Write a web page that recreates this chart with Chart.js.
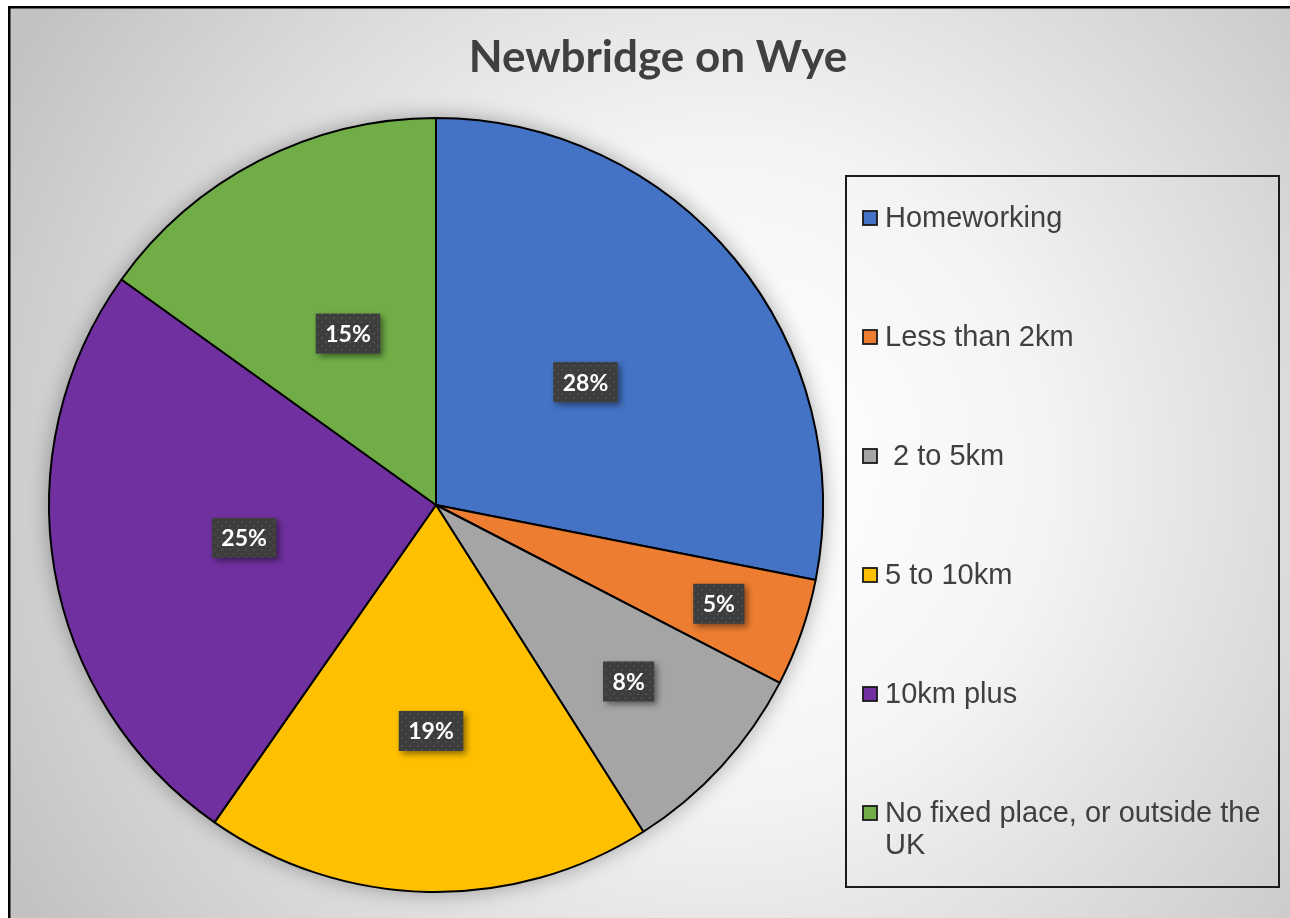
<!DOCTYPE html>
<html>
<head>
<meta charset="utf-8">
<style>
  html, body { margin: 0; padding: 0; background: #ffffff; }
  canvas { display: block; }
</style>
<script src="https://cdn.jsdelivr.net/npm/chart.js@4.4.1/dist/chart.umd.min.js"></script>
</head>
<body>
<canvas id="c" width="1290" height="918"></canvas>
<script>
// ---- data ----
const titleText = 'Newbridge on Wye';
const categories = ['Homeworking', 'Less than 2km', ' 2 to 5km', '5 to 10km', '10km plus', 'No fixed place, or outside the UK'];
const shares = [28.1, 4.5, 8.4, 18.7, 25.2, 15.1];
const sliceColors = ['#4472C4', '#ED7D31', '#A5A5A5', '#FFC000', '#7030A0', '#70AD47'];
// label placement as a fraction of the radius (style)
const labelRadius = [0.50, 0.774, 0.675, 0.584, 0.503, 0.498];

const total = shares.reduce((a, b) => a + b, 0);

function makePattern(ctx) {
  const p = document.createElement('canvas');
  p.width = 8; p.height = 8;
  const pc = p.getContext('2d');
  pc.fillStyle = '#3d3d3d';
  pc.fillRect(0, 0, 8, 8);
  pc.fillStyle = '#4d4d4d';
  pc.fillRect(1, 1, 2, 2);
  pc.fillRect(5, 5, 2, 2);
  return ctx.createPattern(p, 'repeat');
}

const backgroundPlugin = {
  id: 'bg',
  beforeDraw(chart) {
    const ctx = chart.ctx;
    ctx.save();
    ctx.fillStyle = '#ffffff';
    ctx.fillRect(0, 0, chart.width, chart.height);
    const g = ctx.createRadialGradient(720, 470, 60, 720, 470, 820);
    g.addColorStop(0, '#ffffff');
    g.addColorStop(0.35, '#f4f4f4');
    g.addColorStop(1, '#c2c2c2');
    ctx.fillStyle = g;
    ctx.fillRect(8, 6, chart.width, chart.height);
    ctx.fillStyle = '#000000';
    ctx.fillRect(8, 6, chart.width, 2.5);
    ctx.fillRect(8, 6, 2.5, chart.height);
    ctx.restore();
  },
  beforeDatasetsDraw(chart) {
    const arc = chart.getDatasetMeta(0).data[0];
    if (!arc) return;
    const ctx = chart.ctx;
    ctx.save();
    ctx.shadowColor = 'rgba(0,0,0,0.35)';
    ctx.shadowBlur = 22;
    ctx.fillStyle = '#888';
    ctx.beginPath();
    ctx.arc(arc.x, arc.y, arc.outerRadius, 0, Math.PI * 2);
    ctx.fill();
    ctx.restore();
  },
  afterDatasetsDraw(chart) {
    const ctx = chart.ctx;
    const meta = chart.getDatasetMeta(0);
    const pat = makePattern(ctx);
    meta.data.forEach((arc, i) => {
      const p = arc.getProps(['x', 'y', 'startAngle', 'endAngle', 'outerRadius'], true);
      const mid = (p.startAngle + p.endAngle) / 2;
      const r = p.outerRadius * labelRadius[i];
      const cx = p.x + Math.cos(mid) * r;
      const cy = p.y + Math.sin(mid) * r;
      const txt = Math.round(shares[i] / total * 100) + '%';
      ctx.save();
      ctx.font = 'bold 23px Lato';
      const w = ctx.measureText(txt).width + 19;
      const h = 40;
      ctx.shadowColor = 'rgba(0,0,0,0.45)';
      ctx.shadowBlur = 6;
      ctx.shadowOffsetX = 3;
      ctx.shadowOffsetY = 3;
      ctx.fillStyle = pat;
      ctx.fillRect(cx - w / 2, cy - h / 2, w, h);
      ctx.shadowColor = 'transparent';
      ctx.fillStyle = '#ffffff';
      ctx.textAlign = 'center';
      ctx.textBaseline = 'middle';
      ctx.fillText(txt, cx, cy + 1);
      ctx.restore();
    });
  },
  afterDraw(chart) {
    const ctx = chart.ctx;
    ctx.save();
    // title
    ctx.fillStyle = '#404040';
    ctx.font = 'bold 44px Lato';
    ctx.textAlign = 'center';
    ctx.textBaseline = 'alphabetic';
    ctx.fillText(titleText, 658, 72);
    // legend box
    ctx.strokeStyle = '#1a1a1a';
    ctx.lineWidth = 2;
    ctx.strokeRect(846, 176, 433, 711);
    ctx.font = '29px "Liberation Sans", Arial, sans-serif';
    ctx.textAlign = 'left';
    ctx.textBaseline = 'middle';
    const maxW = 390;
    categories.forEach((label, i) => {
      const yc = 218 + i * 119;
      ctx.fillStyle = sliceColors[i];
      ctx.fillRect(863, yc - 7, 14, 14);
      ctx.strokeStyle = '#1a1a1a';
      ctx.lineWidth = 1.8;
      ctx.strokeRect(863, yc - 7, 14, 14);
      // wrap
      const words = label.split(' ');
      const lines = [];
      let cur = '';
      words.forEach((wd, k) => {
        const test = k === 0 ? wd : cur + ' ' + wd;
        if (ctx.measureText(test).width > maxW && cur !== '') {
          lines.push(cur);
          cur = wd;
        } else {
          cur = test;
        }
      });
      lines.push(cur);
      ctx.fillStyle = '#404040';
      lines.forEach((ln, j) => {
        ctx.fillText(ln, 885, yc + 1 + j * 32);
      });
    });
    ctx.restore();
  }
};

new Chart(document.getElementById('c'), {
  type: 'pie',
  data: {
    labels: categories,
    datasets: [{
      data: shares,
      backgroundColor: sliceColors,
      borderColor: '#000000',
      borderWidth: 2,
      hoverOffset: 0,
      offset: 0
    }]
  },
  options: {
    responsive: false,
    animation: false,
    devicePixelRatio: 1,
    layout: { padding: { left: 48, right: 466, top: 117, bottom: 25 } },
    plugins: {
      legend: { display: false },
      title: { display: false },
      tooltip: { enabled: false }
    },
    events: []
  },
  plugins: [backgroundPlugin]
});
</script>
</body>
</html>
